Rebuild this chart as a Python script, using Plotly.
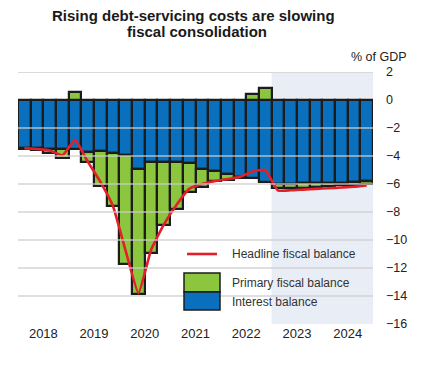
import plotly.graph_objects as go

# ---- data (quarterly, 2018Q1 .. 2024Q4) ----
quarters = [f"{y}Q{q}" for y in range(2018, 2025) for q in range(1, 5)]
years = ["2018", "2019", "2020", "2021", "2022", "2023", "2024"]

interest_balance = [-3.45, -3.45, -3.5, -3.5, -3.5, -3.7, -3.65, -3.8,
                    -3.9, -4.9, -4.45, -4.45, -4.45, -4.5, -4.9, -5.1,
                    -5.25, -5.5, -5.55, -5.85, -6.0, -6.0, -5.95, -5.95,
                    -5.9, -5.9, -5.85, -5.8]
primary_balance = [-0.05, -0.1, -0.3, -0.65, 0.57, -0.75, -2.5, -3.8,
                   -7.8, -8.95, -6.45, -4.45, -3.35, -2.05, -1.3, -0.65,
                   -0.45, -0.1, 0.4, 0.85, -0.3, -0.3, -0.3, -0.25,
                   -0.25, -0.2, -0.2, -0.2]
headline_balance = [-3.45, -3.5, -3.6, -3.95, -2.85, -4.4, -5.85, -7.6,
                    -10.8, -13.8, -10.7, -8.9, -7.5, -6.35, -6.0, -5.8,
                    -5.65, -5.5, -5.1, -5.0, -6.45, -6.45, -6.4, -6.35,
                    -6.3, -6.25, -6.2, -6.1]
forecast_start = "2023Q1"
y_ticks = list(range(2, -17, -2))
title_lines = ["Rising debt-servicing costs are slowing", "fiscal consolidation"]

BLUE = "#0a70bd"
GREEN = "#8cc63f"
RED = "#e2202a"
SHADE = "#e9edf6"
EDGE = "#1c1c1c"

xpos = list(range(len(quarters)))
fs = quarters.index(forecast_start)

fig = go.Figure()
fig.add_trace(go.Bar(x=xpos, y=interest_balance, name="Interest balance",
                     marker=dict(color=BLUE, line=dict(color=EDGE, width=2.2))))
fig.add_trace(go.Bar(x=xpos, y=primary_balance, name="Primary fiscal balance",
                     marker=dict(color=GREEN, line=dict(color=EDGE, width=2.2))))
fig.add_trace(go.Scatter(x=xpos, y=headline_balance, mode="lines",
                         name="Headline fiscal balance",
                         line=dict(color=RED, width=2.6, shape="spline", smoothing=0.4)))

shapes = []
# forecast shading
shapes.append(dict(type="rect", xref="x", yref="paper", x0=fs - 0.5, x1=len(quarters) - 0.5,
                   y0=0, y1=1, fillcolor=SHADE, line=dict(width=0), layer="below"))
# gridlines drawn above bars
for v in y_ticks:
    if v in (0, -16):
        continue
    shapes.append(dict(type="line", xref="paper", yref="y", x0=0, x1=1, y0=v, y1=v,
                       line=dict(color="rgba(205,205,205,0.85)", width=1.6), layer="above"))

# manual legend
def px(xp):
    return (xp - 18) / 355.0
def py(yp):
    return (324 - yp) / 252.0

shapes.append(dict(type="line", xref="paper", yref="paper", x0=px(187), x1=px(217),
                   y0=py(254), y1=py(254), line=dict(color=RED, width=2.6)))
shapes.append(dict(type="rect", xref="paper", yref="paper", x0=px(184), x1=px(220),
                   y0=py(292), y1=py(273), fillcolor=GREEN, line=dict(color=EDGE, width=1.5)))
shapes.append(dict(type="rect", xref="paper", yref="paper", x0=px(184), x1=px(220),
                   y0=py(310), y1=py(292), fillcolor=BLUE, line=dict(color=EDGE, width=1.5)))

annotations = [
    dict(text=f"<b>{title_lines[0]}</b>", xref="paper", yref="paper", x=px(193), y=py(16),
         xanchor="center", yanchor="middle", showarrow=False,
         font=dict(size=15, color="#1a1a1a")),
    dict(text=f"<b>{title_lines[1]}</b>", xref="paper", yref="paper", x=px(197), y=py(32),
         xanchor="center", yanchor="middle", showarrow=False,
         font=dict(size=15, color="#1a1a1a")),
    dict(text="% of GDP", xref="paper", yref="paper", x=px(379), y=py(57),
         xanchor="center", yanchor="middle", showarrow=False,
         font=dict(size=12.5, color="#222")),
    dict(text="Headline fiscal balance", xref="paper", yref="paper", x=px(230), y=py(254),
         xanchor="left", yanchor="middle", showarrow=False, font=dict(size=12, color="#333")),
    dict(text="Primary fiscal balance", xref="paper", yref="paper", x=px(230), y=py(283),
         xanchor="left", yanchor="middle", showarrow=False, font=dict(size=12, color="#333")),
    dict(text="Interest balance", xref="paper", yref="paper", x=px(230), y=py(302),
         xanchor="left", yanchor="middle", showarrow=False, font=dict(size=12, color="#333")),
]

year_centers = [4 * i + 1.5 for i in range(len(years))]
year_bounds = [4 * i - 0.5 for i in range(len(years) + 1)]

fig.update_layout(
    width=437, height=366,
    margin=dict(l=18, r=64, t=72, b=42),
    paper_bgcolor="white", plot_bgcolor="white",
    barmode="relative", bargap=0,
    showlegend=False,
    font=dict(family="Liberation Sans, Arial, sans-serif", color="#222"),
    shapes=shapes, annotations=annotations,
    xaxis=dict(range=[-0.5, len(quarters) - 0.5], tickmode="array",
               tickvals=year_centers, ticktext=years, ticks="", showgrid=False,
               zeroline=False, showline=False, tickfont=dict(size=13, color="#222")),
    xaxis2=dict(overlaying="x", anchor="y", matches="x", range=[-0.5, len(quarters) - 0.5],
                tickmode="array", tickvals=year_bounds, showticklabels=False,
                ticks="inside", ticklen=6, tickwidth=1.3, tickcolor="#555",
                showline=True, linecolor="#555", linewidth=1.5, showgrid=False, zeroline=False,
                side="bottom",
                minor=dict(tickmode="linear", tick0=-0.5, dtick=1, ticks="inside",
                           ticklen=3, tickwidth=1, tickcolor="#666", showgrid=False)),
    yaxis=dict(range=[-16, 2], side="right", tickmode="array", tickvals=y_ticks,
               showgrid=False, zeroline=True, zerolinecolor="#9a9a9a", zerolinewidth=1.2,
               showline=False, ticks="", ticklabelstandoff=12,
               tickfont=dict(size=12.5, color="#222")),
)
# top light line at y=2
fig.add_shape(type="line", xref="paper", yref="y", x0=0, x1=1, y0=2, y1=2,
              line=dict(color="#ececec", width=1.5), layer="below")

fig.write_html("out.html", config={"displayModeBar": False},
               post_script="document.body.style.margin='0';")
